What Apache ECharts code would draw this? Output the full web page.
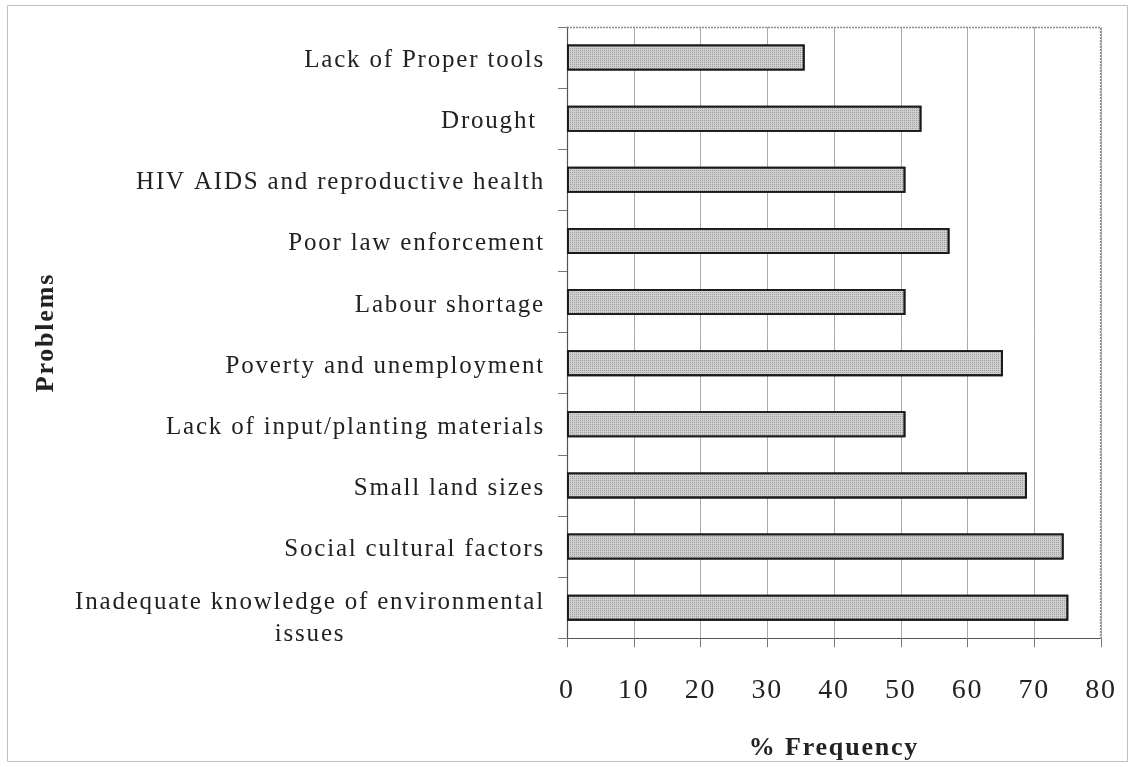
<!DOCTYPE html>
<html>
<head>
<meta charset="utf-8">
<script src="https://cdn.jsdelivr.net/npm/echarts@6/dist/echarts.min.js"></script>
<style>
html,body{margin:0;padding:0;background:#fff;}
#chart{width:1135px;height:767px;}
</style>
</head>
<body>
<div id="chart"></div>
<script>
// Categories listed top to bottom as in the picture
const categories = [
  "Lack of Proper tools",
  "Drought ",
  "HIV AIDS and reproductive health",
  "Poor law enforcement",
  "Labour shortage",
  "Poverty and unemployment",
  "Lack of input/planting materials",
  "Small land sizes",
  "Social cultural factors",
  "Inadequate knowledge of environmental\nissues"
];
const frequency = [35.6, 53.1, 50.7, 57.3, 50.7, 65.3, 50.7, 68.9, 74.4, 75.1];
const xTicks = [0, 10, 20, 30, 40, 50, 60, 70, 80];

// The scanned original uses loosely spaced lettering: apply a small letter spacing to all canvas text
(function () {
  const proto = CanvasRenderingContext2D.prototype;
  if (!('letterSpacing' in proto)) return;
  const fT = proto.fillText, mT = proto.measureText;
  proto.fillText = function () { this.letterSpacing = '1.8px'; return fT.apply(this, arguments); };
  proto.measureText = function () { this.letterSpacing = '1.8px'; return mT.apply(this, arguments); };
})();

const serif = "'Liberation Serif', 'Times New Roman', serif";
const chart = echarts.init(document.getElementById('chart'), null, {renderer: 'canvas'});

const yData = categories.map(function (c) {
  return c.indexOf('\n') >= 0 ? {value: c, textStyle: {padding: [21, 0, 0, 0]}} : c;
});

chart.setOption({
  backgroundColor: '#fff',
  animation: false,
  graphic: [{
    type: 'rect',
    shape: {x: 7.5, y: 5.5, width: 1120, height: 756},
    style: {fill: 'none', stroke: '#c0c0c0', lineWidth: 1},
    z: -1
  }, {
    type: 'polyline',
    shape: {points: [[567, 27.5], [1100.5, 27.5], [1100.5, 639]]},
    style: {fill: 'none', stroke: '#8a9096', lineWidth: 1.3, lineDash: [2, 1]},
    z: 5
  }],
  grid: {left: 567, right: 34, top: 27, bottom: 128, containLabel: false},
  xAxis: {
    type: 'value',
    min: xTicks[0],
    max: xTicks[xTicks.length - 1],
    interval: 10,
    name: '% Frequency',
    nameLocation: 'middle',
    nameGap: 96,
    nameTextStyle: {fontFamily: serif, fontSize: 26, fontWeight: 'bold', color: '#222'},
    axisLine: {show: true, lineStyle: {color: '#555', width: 1.2}},
    axisTick: {show: true, inside: false, length: 9, lineStyle: {color: '#777'}},
    axisLabel: {fontFamily: serif, fontSize: 28, color: '#222', margin: 38},
    splitLine: {show: true, lineStyle: {color: '#a3acb5', width: 1}}
  },
  yAxis: {
    type: 'category',
    data: yData,
    inverse: true,
    name: 'Problems',
    nameLocation: 'middle',
    nameRotate: 90,
    nameGap: 507,
    nameTextStyle: {fontFamily: serif, fontSize: 26, fontWeight: 'bold', color: '#222'},
    axisLine: {show: true, lineStyle: {color: '#555', width: 1.2}},
    axisTick: {show: true, inside: false, length: 9, alignWithLabel: false, lineStyle: {color: '#777'}},
    axisLabel: {
      fontFamily: serif, fontSize: 25, color: '#222', margin: 22, lineHeight: 32,
      padding: [6, 0, 0, 0],
      interval: 0, showMinLabel: true, showMaxLabel: true,
      formatter: function (v) {
        if (v.indexOf('\n') >= 0) {
          return v.split('\n').map(function (s) { return '{c|' + s + '}'; }).join('\n');
        }
        return v;
      },
      rich: {
        c: {fontFamily: serif, fontSize: 25, color: '#222', align: 'center', lineHeight: 32}
      }
    },
    splitLine: {show: false}
  },
  series: [{
    type: 'bar',
    data: frequency,
    barWidth: 26,
    itemStyle: {
      color: '#cfcfcf', borderColor: '#1a1a1a', borderWidth: 1.8,
      decal: {symbol: 'rect', symbolSize: 1, dashArrayX: [1, 1], dashArrayY: [1, 1], color: 'rgba(70,70,70,0.35)'}
    }
  }]
});
</script>
</body>
</html>
